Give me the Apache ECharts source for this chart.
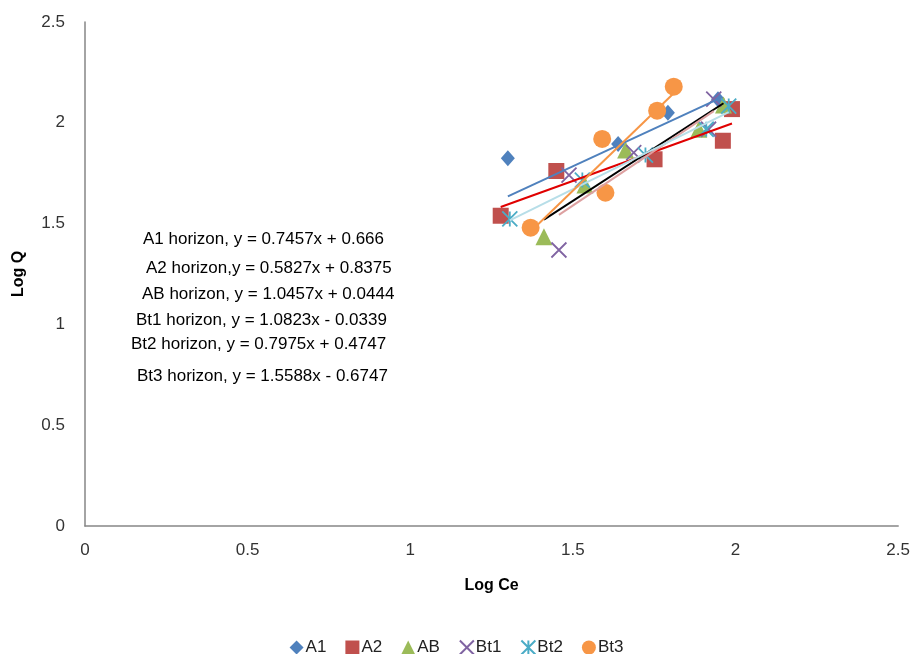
<!DOCTYPE html>
<html><head><meta charset="utf-8">
<script src="https://cdn.jsdelivr.net/npm/echarts@6/dist/echarts.min.js"></script>
<style>html,body{margin:0;padding:0;background:#fff}#c{width:913px;height:654px}</style>
</head><body><div id="c"></div>
<script>
const seriesNames = ['A1', 'A2', 'AB', 'Bt1', 'Bt2', 'Bt3'];
const A1 = [[1.300, 1.824], [1.639, 1.895], [1.792, 2.050], [1.946, 2.117]];
const A2 = [[1.278, 1.539], [1.449, 1.761], [1.751, 1.819], [1.961, 1.911], [1.989, 2.068]];
const AB = [[1.411, 1.435], [1.537, 1.691], [1.662, 1.865], [1.887, 1.968], [1.963, 2.088]];
const Bt1 = [[1.457, 1.369], [1.488, 1.741], [1.687, 1.852], [1.917, 1.968], [1.933, 2.117]];
const Bt2 = [[1.306, 1.523], [1.529, 1.716], [1.723, 1.840], [1.910, 1.968], [1.979, 2.083]];
const Bt3 = [[1.370, 1.480], [1.600, 1.653], [1.590, 1.920], [1.759, 2.060], [1.810, 2.179]];
const slopes = [0.7457, 0.5827, 1.0457, 1.0823, 0.7975, 1.5588];
const intercepts = [0.666, 0.8375, 0.0444, -0.0339, 0.4747, -0.6747];
const equationLabels = [
  'A1 horizon, y = 0.7457x + 0.666',
  'A2 horizon,y = 0.5827x + 0.8375',
  'AB horizon, y = 1.0457x + 0.0444',
  'Bt1 horizon, y = 1.0823x - 0.0339',
  'Bt2 horizon, y = 0.7975x + 0.4747',
  'Bt3 horizon, y = 1.5588x - 0.6747'
];
const xTitle = 'Log Ce';
const yTitle = 'Log Q';

const allData = [A1, A2, AB, Bt1, Bt2, Bt3];
const markerColors = ['#4F81BD', '#C0504D', '#9BBB59', '#8064A2', '#4BACC6', '#F79646'];
const trendColors = ['#4F81BD', '#E00000', '#000000', '#DDA0A0', '#B7DEE8', '#F79646'];
const symbols = [
  'diamond', 'rect', 'triangle',
  'path://M0,0 L10,10 M10,0 L0,10',
  'path://M0,0 L10,10 M10,0 L0,10 M5,0 L5,10',
  'circle'
];
const sizes = [[14, 16], 16, 17, 15, 15, 18];
const eqPos = [[143, 241], [146, 270], [142, 296], [136, 322], [131, 346], [137, 378]];

const series = [];
allData.forEach((d, i) => {
  const isLine = i === 3 || i === 4;
  series.push({
    name: seriesNames[i], type: 'scatter', data: d,
    symbol: symbols[i], symbolSize: sizes[i], z: 2,
    itemStyle: isLine
      ? { color: markerColors[i], borderColor: markerColors[i], borderWidth: 1.8, opacity: 1 }
      : { color: markerColors[i], opacity: 1 }
  });
});
allData.forEach((d, i) => {
  const xs = d.map(p => p[0]);
  const x0 = Math.min(...xs), x1 = Math.max(...xs);
  series.push({
    name: seriesNames[i] + ' trend', type: 'line', z: 3,
    data: [[x0, slopes[i] * x0 + intercepts[i]], [x1, slopes[i] * x1 + intercepts[i]]],
    symbol: 'none', silent: true,
    lineStyle: { color: trendColors[i], width: 2 }
  });
});

const chart = echarts.init(document.getElementById('c'));
chart.setOption({
  animation: false,
  backgroundColor: '#fff',
  grid: { left: 85, right: 13, top: 22, bottom: 128, containLabel: false },
  xAxis: {
    type: 'value', min: 0, max: 2.5, interval: 0.5,
    name: xTitle, nameLocation: 'middle', nameGap: 52,
    nameTextStyle: { fontFamily: 'Liberation Sans', fontWeight: 'bold', fontSize: 16, color: '#000' },
    axisLine: { show: true, lineStyle: { color: '#868686', width: 1.5 } },
    axisTick: { show: false },
    splitLine: { show: false },
    axisLabel: { fontFamily: 'Liberation Sans', fontSize: 17, color: '#333', margin: 16 }
  },
  yAxis: {
    type: 'value', min: 0, max: 2.5, interval: 0.5,
    name: yTitle, nameLocation: 'middle', nameGap: 58, nameRotate: 90,
    nameTextStyle: { fontFamily: 'Liberation Sans', fontWeight: 'bold', fontSize: 16, color: '#000' },
    axisLine: { show: true, lineStyle: { color: '#868686', width: 1.5 } },
    axisTick: { show: false },
    splitLine: { show: false },
    axisLabel: { fontFamily: 'Liberation Sans', fontSize: 17, color: '#333', margin: 20 }
  },
  legend: {
    data: seriesNames, top: 634, left: 'center',
    itemWidth: 14, itemHeight: 14, itemGap: 19,
    textStyle: { fontFamily: 'Liberation Sans', fontSize: 17, color: '#222', padding: [0, 0, 0, -3] }
  },
  graphic: equationLabels.map((t, i) => ({
    type: 'text', left: eqPos[i][0], top: eqPos[i][1] - 10,
    style: { text: t, fontFamily: 'Liberation Sans', fontSize: 17, fill: '#000' }
  })),
  series
});
</script></body></html>
